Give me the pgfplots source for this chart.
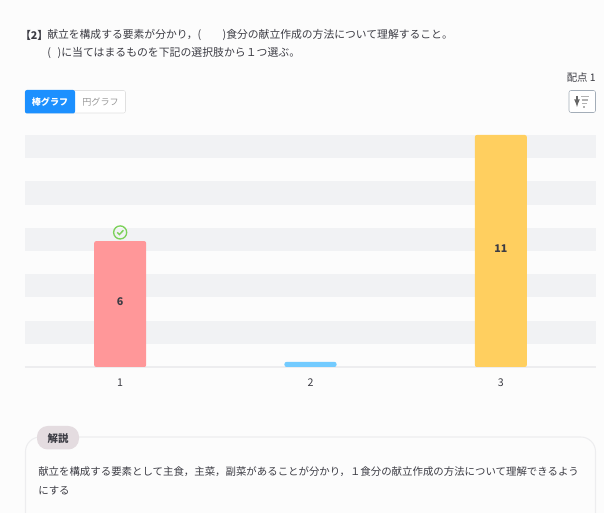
\documentclass[border=0pt]{standalone}
\usepackage{pgfplots}
\pgfplotsset{compat=1.18}
\usepackage{fontspec}
\setmainfont{Noto Sans CJK JP}
\definecolor{band}{HTML}{F1F2F4}
\definecolor{redbar}{HTML}{FF9799}
\definecolor{bluebar}{HTML}{73CBFF}
\definecolor{yellowbar}{HTML}{FFCF5F}
\definecolor{txt}{HTML}{3C3C44}
\definecolor{okgreen}{HTML}{7CD15A}
\definecolor{tabblue}{HTML}{1C90FF}
\definecolor{pill}{HTML}{E4DCE0}
\definecolor{boxline}{HTML}{EDEDEF}
\definecolor{btn}{HTML}{A3ADB8}
\newcommand{\fs}[1]{\fontsize{#1}{#1}\selectfont}
\begin{document}
\begin{tikzpicture}
\begin{scope}[x=0.75pt,y=-0.75pt]
\useasboundingbox (0,0) rectangle (604,513);
\clip (0,0) rectangle (604,513);
\fill[white!99!black] (0,0) rectangle (604,513);
% question text
\node[anchor=west,inner sep=0,text=txt] at (20,35) {\fs{8}\textbf{【2】}};
\node[anchor=west,inner sep=0,text=txt] at (47,35) {\fs{8.1}献立を構成する要素が分かり，(\hspace{16pt})食分の献立作成の方法について理解すること。};
\node[anchor=west,inner sep=0,text=txt] at (47,53) {\fs{8.15}(\hspace{5pt})に当てはまるものを下記の選択肢から１つ選ぶ。};
\node[anchor=east,inner sep=0,text=txt] at (596,78) {\fs{7.8}配点 1};
% tabs
\draw[rounded corners=1.5pt,draw=black!12,fill=white] (25,90.5) rectangle (125.5,113);
\fill[tabblue,rounded corners=1.5pt] (25,90) rectangle (75,113.5);
\node[text=white,inner sep=0] at (50,102) {\fs{6.8}\textbf{棒グラフ}};
\node[text=black!40,inner sep=0] at (100.5,102) {\fs{6.8}円グラフ};
% sort button
\draw[rounded corners=1.5pt,draw=btn,fill=white] (569,90.5) rectangle (595.5,112.5);
\draw[-latex,line width=1pt,draw=black!60] (577,96) -- (577,107);
\draw[line width=1pt,draw=black!30] (581,96.5) -- (589,96.5) (581.5,100) -- (588,100) (582,103.5) -- (587,103.5) (583,107) -- (585,107);
% explanation box
\draw[draw=boxline,line width=0.8pt,rounded corners=11pt] (25.5,437) rectangle (595.5,540);
\fill[pill,rounded corners=8pt] (37,426) rectangle (79,449.5);
\node[text=txt,inner sep=0] at (58,439) {\fs{7.8}\textbf{解説}};
\node[anchor=west,inner sep=0,text=txt] at (38,472) {\fs{7.82}献立を構成する要素として主食，主菜，副菜があることが分かり，１食分の献立作成の方法について理解できるよう};
\node[anchor=west,inner sep=0,text=txt] at (38,491) {\fs{7.82}にする};
\end{scope}
\begin{axis}[
  at={(18.75pt,-275.25pt)},anchor=south west,
  scale only axis,width=428.25pt,height=174pt,
  xmin=0.5,xmax=3.5,ymin=0,ymax=11,
  xtick={1,2,3},xticklabels={1,2,3},
  ytick=\empty,
  axis x line*=bottom,axis y line=none,
  x axis line style={draw=boxline,line width=0.8pt,-},
  major tick length=0pt,
  tick label style={font=\fs{8},text=txt},
  xticklabel style={yshift=-5.5pt},
  /pgf/number format/assume math mode=true,
  ybar,bar width=39pt,bar shift=0pt,clip=false,
]
\fill[band] (axis cs:0.5,9.9) rectangle (axis cs:3.5,11);
\fill[band] (axis cs:0.5,7.7) rectangle (axis cs:3.5,8.8);
\fill[band] (axis cs:0.5,5.5) rectangle (axis cs:3.5,6.6);
\fill[band] (axis cs:0.5,3.3) rectangle (axis cs:3.5,4.4);
\fill[band] (axis cs:0.5,1.1) rectangle (axis cs:3.5,2.2);
\addplot[fill=redbar,draw=none,rounded corners=1.5pt] coordinates {(1,5.97)};
\addplot[fill=bluebar,draw=none,rounded corners=1.5pt] coordinates {(2,0.24)};
\addplot[fill=yellowbar,draw=none,rounded corners=1.5pt] coordinates {(3,11)};
\node[text=txt] at (axis cs:1,3.1) {\fs{8}\textbf{6}};
\node[text=txt] at (axis cs:3,5.6) {\fs{8}\textbf{11}};
\draw[okgreen,line width=1pt] (axis cs:1,6.38) circle[radius=4.9pt];
\draw[okgreen,line width=1.1pt] ([xshift=-2.2pt]axis cs:1,6.38) -- ([xshift=-0.6pt,yshift=-1.6pt]axis cs:1,6.38) -- ([xshift=2.4pt,yshift=1.6pt]axis cs:1,6.38);
\end{axis}
\end{tikzpicture}
\end{document}
